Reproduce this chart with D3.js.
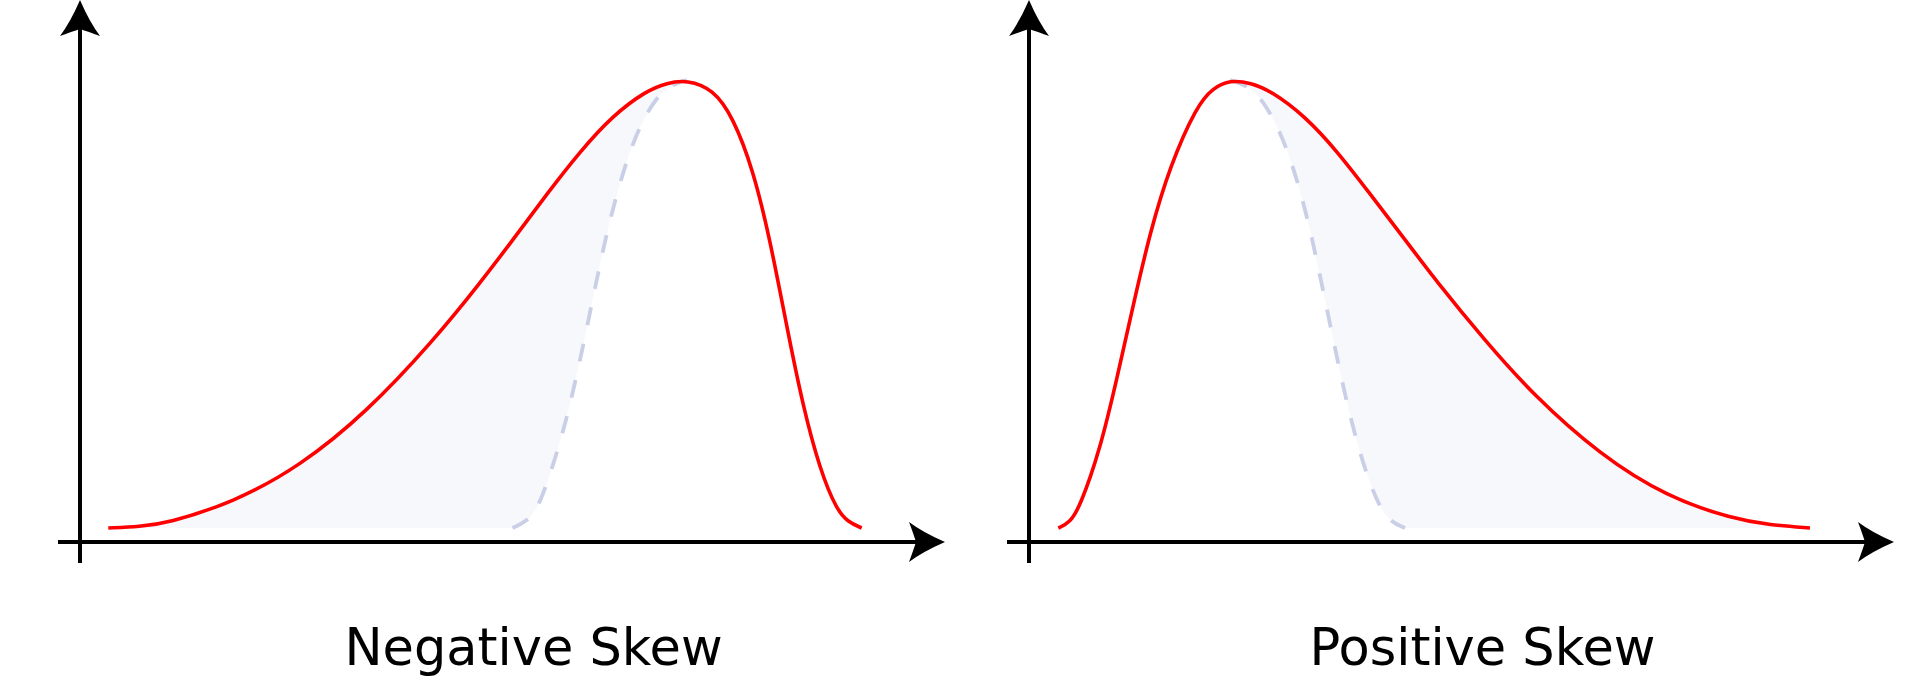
<!DOCTYPE html>
<html>
<head>
<meta charset="utf-8">
<script src="https://cdn.jsdelivr.net/npm/d3@7"></script>
<style>
  html, body { margin: 0; padding: 0; background: #fff; }
  svg { display: block; }
</style>
</head>
<body>
<svg id="chart" width="1920" height="684"></svg>
<script>
// ---------- DATA (x: position along the horizontal axis, 0-100; y: density as % of the peak) ----------
const panelTitles = ["Negative Skew", "Positive Skew"];

// Negative skew: skewed curve (red)
const negSkewX = [3.27, 6.94, 10.02, 17.69, 25.43, 33.14, 40.81, 46.24, 50.87, 53.95, 57.80, 61.62, 65.51, 67.86, 70.17, 73.18, 75.49, 77.80, 79.77, 81.70, 83.58, 85.55, 87.48, 88.79, 90.37];
const negSkewY = [0, 0.34, 1.05, 5.66, 13.76, 25.84, 41.70, 54.63, 66.44, 74.50, 84.03, 92.15, 97.65, 99.37, 100, 97.99, 91.72, 80.09, 64.43, 45.03, 27.14, 12.98, 4.03, 1.34, 0];
// Negative skew: symmetric reference curve (dashed)
const negRefX = [50.00, 51.56, 52.87, 54.10, 55.49, 56.76, 58.65, 60.46, 62.05, 63.93, 66.24, 68.21, 70.17];
const negRefY = [0, 1.34, 4.25, 10.51, 19.02, 28.19, 44.97, 62.42, 74.72, 86.58, 95.30, 98.88, 100];

// Positive skew: skewed curve (red)
const posSkewX = [3.39, 4.74, 5.90, 8.21, 10.14, 12.02, 13.99, 16.30, 19.39, 21.27, 23.24, 25.66, 27.98, 31.91, 35.72, 39.54, 42.66, 47.28, 52.72, 58.27, 66.01, 73.76, 81.39, 85.66, 90.29];
const posSkewY = [0, 1.23, 4.77, 17.45, 33.11, 49.51, 66.00, 80.83, 94.25, 98.21, 100, 99.37, 97.54, 91.95, 83.89, 74.27, 66.44, 54.59, 41.83, 29.75, 16.33, 6.94, 2.01, 0.67, 0];
// Positive skew: symmetric reference curve (dashed)
const posRefX = [23.24, 25.20, 27.17, 29.48, 31.33, 32.83, 34.57, 36.42, 38.03, 39.31, 40.58, 41.85, 43.47];
const posRefY = [100, 98.88, 95.30, 86.80, 75.62, 63.98, 47.65, 30.43, 18.12, 10.51, 4.47, 1.34, 0];

// ---------- LAYOUT ----------
const panels = [
  { title: panelTitles[0], skewX: negSkewX, skewY: negSkewY, refX: negRefX, refY: negRefY, x0: 80, fillSide: "left" },
  { title: panelTitles[1], skewX: posSkewX, skewY: posSkewY, refX: posRefX, refY: posRefY, x0: 1029, fillSide: "right" }
];
const axisLen = 865;        // from y-axis to arrow tip
const yBase = 528, yTop = 80;
const axisY = 542;

const svg = d3.select("#chart");
const defs = svg.append("defs");

function arrowPath(tx, ty, dir) {
  // dart-shaped arrowhead, tip at (tx,ty)
  const L = 36, W = 20, N = 29;
  const c1 = [9.5, 22], c2 = [8, 31.5];
  const map = dir === "up" ? (p) => [tx + p[0], ty + p[1]] : (p) => [tx - p[1], ty + p[0]];
  const m = (p) => map(p).map(v => v.toFixed(2)).join(",");
  return "M" + m([0, 0]) +
    " Q" + m(c1) + " " + m([W, L]) +
    " Q" + m(c2) + " " + m([0, N]) +
    " Q" + m([-c2[0], c2[1]]) + " " + m([-W, L]) +
    " Q" + m([-c1[0], c1[1]]) + " " + m([0, 0]) + "Z";
}

panels.forEach((p, i) => {
  const x = d3.scaleLinear().domain([0, 100]).range([p.x0, p.x0 + axisLen]);
  const y = d3.scaleLinear().domain([0, 100]).range([yBase, yTop]);
  const g = svg.append("g");

  const skew = p.skewX.map((v, k) => ({ x: v, y: p.skewY[k] }));
  const ref = p.refX.map((v, k) => ({ x: v, y: p.refY[k] }))
    .sort((a, b) => a.x - b.x);
  const peak = skew.reduce((a, b) => (b.y > a.y ? b : a));

  const curve = d3.curveBasis;
  const line = d3.line().x(d => x(d.x)).y(d => y(d.y)).curve(curve);
  const area = d3.area().x(d => x(d.x)).y0(y(0)).y1(d => y(d.y)).curve(curve);

  // clip to the tail side of the peak
  const clipId = "clip" + i;
  const cx = x(peak.x);
  defs.append("clipPath").attr("id", clipId).append("rect")
    .attr("x", p.fillSide === "left" ? 0 : cx)
    .attr("y", 0)
    .attr("width", p.fillSide === "left" ? cx : 1920 - cx)
    .attr("height", 684);

  // shaded area between the skewed curve and the reference curve
  g.append("path").attr("d", area(skew)).attr("fill", "#f7f8fb").attr("clip-path", `url(#${clipId})`);
  g.append("path").attr("d", area(ref)).attr("fill", "#ffffff");

  // dashed reference curve
  g.append("path").attr("d", line(ref))
    .attr("fill", "none").attr("stroke", "#c9cfe6").attr("stroke-width", 3.8)
    .attr("stroke-dasharray", "18,19");

  // skewed curve
  g.append("path").attr("d", line(skew))
    .attr("fill", "none").attr("stroke", "#ff0000").attr("stroke-width", 3.6);

  // axes
  const ox = x(0);
  g.append("line").attr("x1", ox).attr("x2", ox).attr("y1", 25).attr("y2", 563)
    .attr("stroke", "#000").attr("stroke-width", 4);
  g.append("line").attr("x1", ox - 22).attr("x2", x(100) - 25).attr("y1", axisY).attr("y2", axisY)
    .attr("stroke", "#000").attr("stroke-width", 4);
  g.append("path").attr("d", arrowPath(ox, 0, "up")).attr("fill", "#000");
  g.append("path").attr("d", arrowPath(x(100), axisY, "right")).attr("fill", "#000");

  // title
  g.append("text")
    .attr("x", x(52.43)).attr("y", 665)
    .attr("text-anchor", "middle")
    .attr("font-family", "DejaVu Sans, sans-serif")
    .attr("font-size", 51)
    .attr("fill", "#000")
    .text(p.title);
});
</script>
</body>
</html>
